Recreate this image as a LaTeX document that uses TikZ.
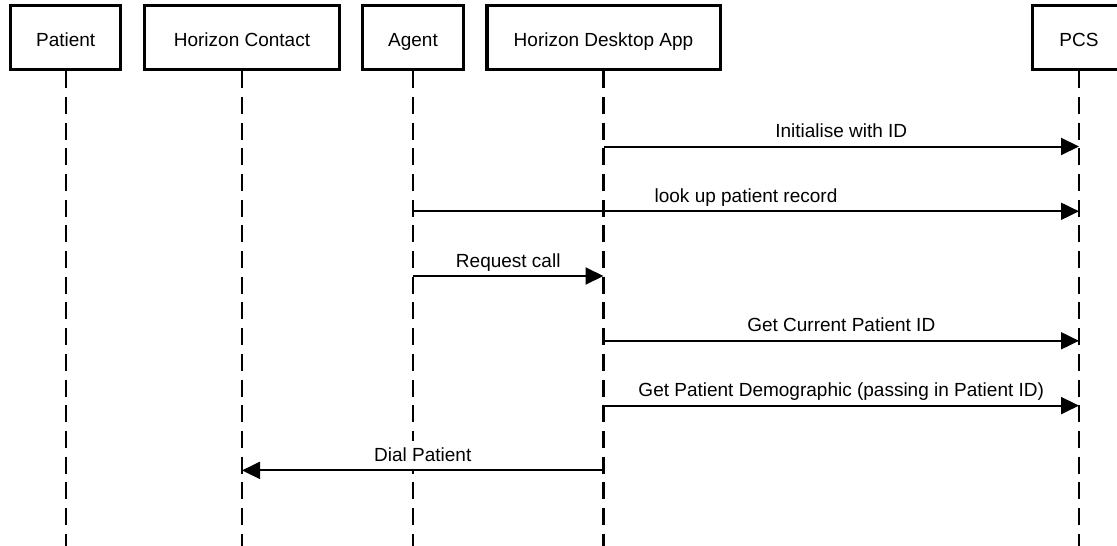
\documentclass[tikz,border=0pt]{standalone}
\usepackage{fontspec}
\setmainfont{Liberation Sans}
\usetikzlibrary{arrows.meta}
\tikzset{
  actor/.style={draw=black, line width=3.2pt, fill=white, minimum height=63.7pt, inner sep=0pt},
  lifeline/.style={draw=black, line width=2.1pt, dash pattern=on 17pt off 8.7pt},
  msg/.style={draw=black, line width=2pt, -{Triangle[length=18pt,width=17pt]}},
  lbl/.style={anchor=base, font=\fontsize{19}{23}\selectfont, inner sep=0pt, text=black},
  msglbl/.style={lbl, yshift=9pt},
  cover/.style={fill=white, inner xsep=3pt, inner ysep=7pt},
}
\begin{document}
\begin{tikzpicture}[x=1pt,y=-1pt]
\useasboundingbox (0,0) rectangle (1117,546);
\clip (0,0) rectangle (1117,546);
% actor boxes
\node[actor, minimum width=110.3pt] (patient) at (65.7,37.65) {};
\node[actor, minimum width=194.5pt] (contact) at (242,37.65) {};
\node[actor, minimum width=101pt] (agent) at (413,37.65) {};
\node[actor, minimum width=233.2pt] (desktop) at (603.5,37.65) {};
\node[actor, minimum width=92.6pt] (pcs) at (1079,37.65) {};
% actor labels
\node[lbl] (patientT) at (65.7,46.7) {Patient};
\node[lbl] (contactT) at (242,46.7) {Horizon Contact};
\node[lbl] (agentT) at (413,46.7) {Agent};
\node[lbl] (desktopT) at (603.5,46.7) {Horizon Desktop App};
\node[lbl] (pcsT) at (1079,46.7) {PCS};
% lifeline ends
\coordinate (patientE) at (65.7,546);
\coordinate (contactE) at (242,546);
\coordinate (agentE) at (413,546);
\coordinate (desktopE) at (603.5,546);
\coordinate (pcsE) at (1079,546);
\draw[lifeline] (patient.south) -- (patientE);
\draw[lifeline] (contact.south) -- (contactE);
\draw[lifeline] (agent.south) -- (agentE);
\draw[lifeline] (desktop.south) -- (desktopE);
\draw[lifeline] (pcs.south) -- (pcsE);
% message end points
\coordinate (m1s) at (603.5,146.5);  \coordinate (m1e) at (1079,146.5);
\coordinate (m2s) at (413,211.3);    \coordinate (m2e) at (1079,211.3);
\coordinate (m3s) at (413,276);      \coordinate (m3e) at (603.5,276);
\coordinate (m4s) at (603.5,340.8);  \coordinate (m4e) at (1079,340.8);
\coordinate (m5s) at (603.5,405.6);  \coordinate (m5e) at (1079,405.6);
\coordinate (m6s) at (603.5,470.4);  \coordinate (m6e) at (242,470.4);
% messages
\draw[msg] (m1s) -- (m1e) node[midway, msglbl] (m1t) {Initialise with ID};
\draw[msg] (m2s) -- (m2e) node[midway, msglbl] (m2t) {look up patient record};
\draw[msg] (m3s) -- (m3e) node[midway, msglbl] (m3t) {Request call};
\draw[msg] (m4s) -- (m4e) node[midway, msglbl] (m4t) {Get Current Patient ID};
\draw[msg] (m5s) -- (m5e) node[midway, msglbl] (m5t) {Get Patient Demographic (passing in Patient ID)};
\draw[msg] (m6s) -- (m6e) node[midway, msglbl, cover] (m6t) {Dial Patient};
\end{tikzpicture}
\end{document}
